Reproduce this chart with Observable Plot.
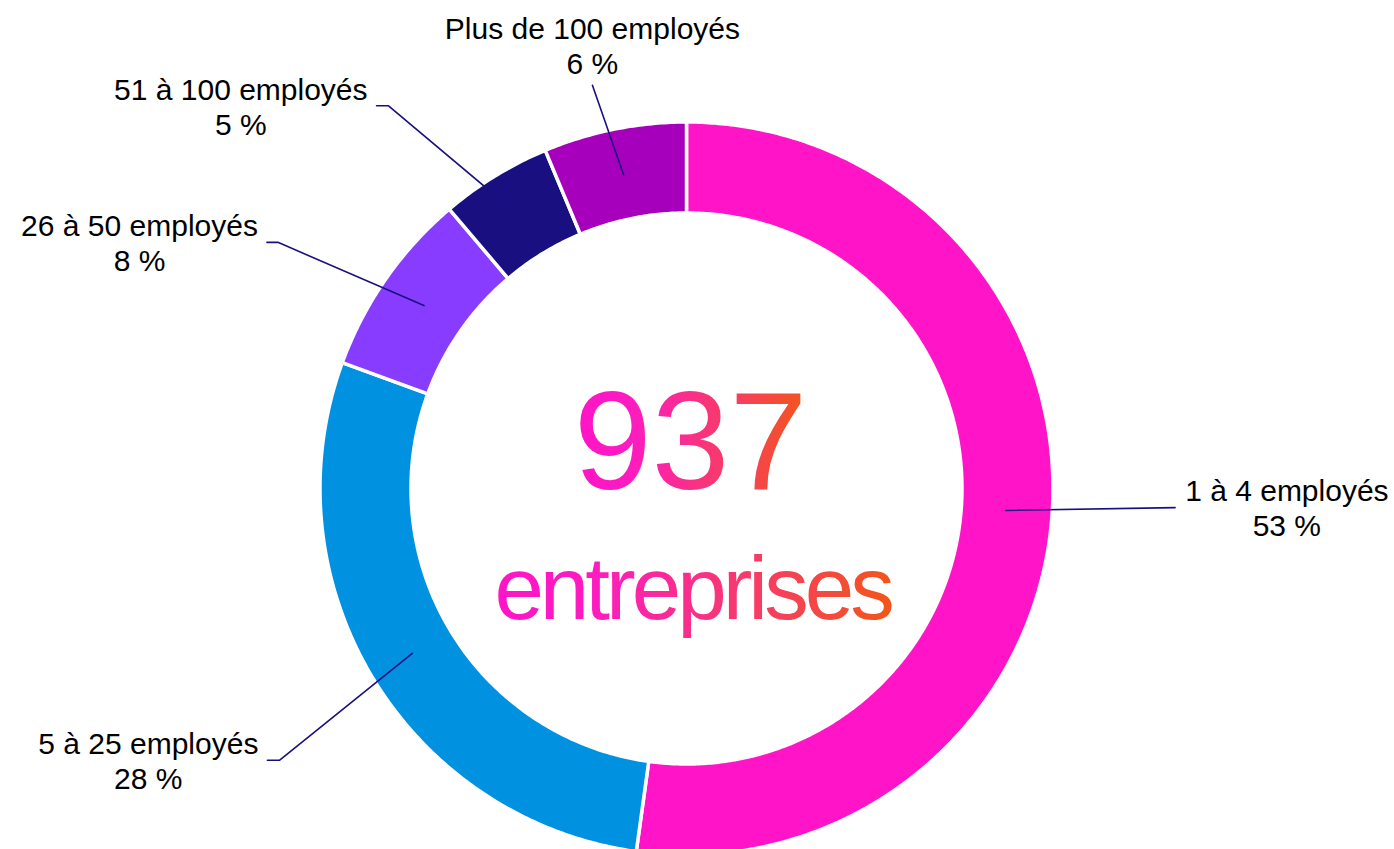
<!DOCTYPE html>
<html><head><meta charset="utf-8">
<script src="https://cdn.jsdelivr.net/npm/d3@7"></script>
<script src="https://cdn.jsdelivr.net/npm/@observablehq/plot@0.6"></script>
<style>body{margin:0;background:#fff;} svg{display:block}</style>
</head><body><div id="chart"></div>
<script>
// ---- data ----
const categories = ["1 à 4 employés", "5 à 25 employés", "26 à 50 employés", "51 à 100 employés", "Plus de 100 employés"];
const counts = [489, 266, 77, 46, 59];
const percentLabels = ["53 %", "28 %", "8 %", "5 %", "6 %"];
const sliceColors = ["#ff14c8", "#0091e0", "#873cff", "#1a0f80", "#a600bc"];
const totalLabel = "937";
const totalCaption = "entreprises";

// ---- layout ----
const W = 1394, H = 849, cx = 686, cy = 488, R = 366.5, R0 = 275.5, rLeader = 320;
const leaderLayout = [
  {dAngle: -1.7, radius: 489, tail: 0, side: "right"},
  {dAngle: -2.7, radius: 489.5, tail: 12, side: "left"},
  {dAngle: -3.8, radius: 477, tail: 11, side: "left"},
  {dAngle: -6.4, radius: 485, tail: 12, side: "left"},
  {dAngle: -1.8, radius: 414, tail: 0, side: "top"}
];
const navy = "#1a0f80";
const labelFont = "Liberation Sans", labelSize = 30;

const ctx = document.createElement("canvas").getContext("2d");
ctx.font = `${labelSize}px "${labelFont}"`;
const textWidth = s => ctx.measureText(s).width;

const arcs = d3.pie().sort(null).value(d => d)(counts);
const pt = (a, rad) => [cx + rad * Math.sin(a), cy - rad * Math.cos(a)];

const sectors = arcs.map((a, i) => {
  const n = Math.max(4, Math.ceil((a.endAngle - a.startAngle) / (Math.PI / 360)));
  const ring = [];
  for (let k = 0; k <= n; ++k) ring.push(pt(a.startAngle + (a.endAngle - a.startAngle) * k / n, R));
  for (let k = n; k >= 0; --k) ring.push(pt(a.startAngle + (a.endAngle - a.startAngle) * k / n, R0));
  ring.push(ring[0]);
  return {type: "Feature", properties: {color: sliceColors[i], name: categories[i]}, geometry: {type: "Polygon", coordinates: [ring]}};
});

const leaders = [], labels = [];
arcs.forEach((a, i) => {
  const L = leaderLayout[i];
  const mid = (a.startAngle + a.endAngle) / 2;
  const start = pt(mid, rLeader);
  const elbow = pt(mid + L.dAngle * Math.PI / 180, L.radius);
  const coords = [start, elbow];
  let end = elbow;
  if (L.tail) { end = [elbow[0] - L.tail, elbow[1]]; coords.push(end); }
  leaders.push({type: "Feature", properties: {}, geometry: {type: "LineString", coordinates: coords}});
  const text = categories[i] + "\n" + percentLabels[i];
  const w = Math.max(textWidth(categories[i]), textWidth(percentLabels[i]));
  if (L.side === "right") labels.push({x: end[0] + 10 + w / 2, y: end[1], text});
  else if (L.side === "left") labels.push({x: end[0] - 9 - w / 2, y: end[1], text});
  else labels.push({x: end[0], y: end[1] - 40, text});
});

const chart = Plot.plot({
  width: W, height: H, margin: 0,
  projection: d3.geoIdentity(),
  color: {type: "identity"},
  style: {background: "white"},
  marks: [
    Plot.geo(sectors, {fill: d => d.properties.color, stroke: "white", strokeWidth: 3.5}),
    Plot.geo(leaders, {fill: "none", stroke: navy, strokeWidth: 1.6}),
    Plot.text(labels, {x: "x", y: "y", text: "text", textAnchor: "middle", lineAnchor: "middle", lineHeight: 1.167, fontSize: labelSize, fontFamily: labelFont, fill: "#000"}),
    Plot.text([{x: cx + 4, y: cy, t: totalLabel}], {x: "x", y: "y", text: "t", lineAnchor: "bottom", fontSize: 140, fontFamily: "Liberation Sans", fill: "url(#txtgrad)"}),
    Plot.text([{x: cx + 6, y: cy + 130, t: totalCaption}], {x: "x", y: "y", text: "t", lineAnchor: "bottom", fontSize: 89, fontFamily: "Liberation Sans", fill: "url(#txtgrad)"})
  ]
});

const svgSel = d3.select(chart);
const defs = svgSel.insert("defs", ":first-child");
const g = defs.append("linearGradient").attr("id", "txtgrad").attr("x1", 0).attr("x2", 1).attr("y1", 0).attr("y2", 0);
g.append("stop").attr("offset", "0").attr("stop-color", "#ff14c8");
g.append("stop").attr("offset", "0.25").attr("stop-color", "#fd1cc0");
g.append("stop").attr("offset", "1").attr("stop-color", "#f2561a");
svgSel.selectAll("text").filter(function() { return this.textContent === totalCaption; }).attr("letter-spacing", "-4px");

document.getElementById("chart").appendChild(chart);
</script>
</body></html>
